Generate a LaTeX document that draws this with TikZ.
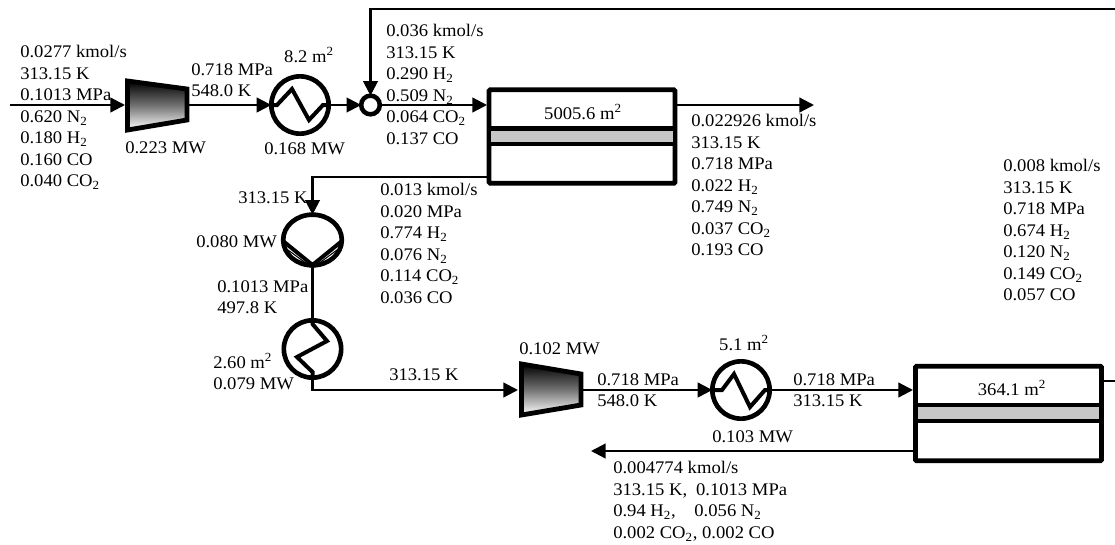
\documentclass[tikz,border=0pt]{standalone}
\usepackage{fontspec}
\setmainfont{Liberation Serif}[FakeStretch=1.05]
\usetikzlibrary{arrows.meta,shapes.geometric}
\newcommand{\sbt}[1]{\textsubscript{#1}}
\newcommand{\spt}[1]{\textsuperscript{#1}}
\tikzset{
  x=0.75pt,y=-0.75pt,
  flow/.style={line width=1.7pt,-{Triangle[length=11pt,width=11pt]}},
  pipe/.style={line width=1.7pt},
  ring/.style={circle,draw=black,line width=3.5pt,minimum size=43pt,inner sep=0pt,outer sep=0pt},
  coil/.style={line width=3pt,line join=miter},
  membrane/.style={draw=black,fill=white,line width=3.6pt,rounded corners=0.8pt,minimum width=139.5pt,minimum height=70pt,inner sep=0pt,outer sep=0pt},
  bar/.style={draw=black,line width=3.2pt,fill=black!22},
  comp/.style={draw=black,line width=3.6pt,line join=miter,top color=black,bottom color=white,middle color=black!55},
  lbl/.style={font=\fontsize{13.3pt}{16.15pt}\selectfont,align=left,anchor=north west,inner sep=0pt},
  lblc/.style={font=\fontsize{13.3pt}{16.15pt}\selectfont,anchor=center,inner sep=0pt},
}
\begin{document}
\begin{tikzpicture}
\useasboundingbox (0,0) rectangle (1115,544);
% named ports
\coordinate (feed) at (10,105);
\coordinate (c1in) at (125,105);
\coordinate (c1out) at (187,105);
\coordinate (recR) at (1115,9);
\coordinate (m1in) at (487,105);
\coordinate (m1ret) at (487,177);
\coordinate (m1out) at (677,105);
\coordinate (prod1) at (814,105);
\coordinate (c2in) at (518,390);
\coordinate (c2out) at (581,390);
\coordinate (m2in) at (913,390);
\coordinate (m2ret) at (913,451);
\coordinate (m2out) at (1103,381);
\coordinate (m2outR) at (1115,381);
\coordinate (prod2) at (591,451);
% equipment nodes
\node[ring] (hx1) at (300,105) {};
\node[ring,minimum size=14pt,line width=3.4pt] (mix) at (370.5,105) {};
\node[ring,ellipse,minimum width=44pt,minimum height=38pt] (cool) at (312.5,240) {};
\node[ring] (hx3) at (312.5,349) {};
\node[ring] (hx2) at (741,390) {};
\node[membrane] (m1) at (582,136.5) {};
\node[membrane,minimum height=71pt] (m2) at (1008.5,413.5) {};
% connectors
\draw[flow] (feed) -- (c1in);
\draw[flow] (c1out) -- (hx1.west);
\draw[flow] (hx1.east) -- (mix.west);
\draw[flow] (recR) -| (mix.north);
\draw[flow] (mix.east) -- (m1in);
\draw[flow] (m1out) -- (prod1);
\draw[flow] (m1ret) -| (cool.north);
\draw[pipe] (cool.south) -- (hx3.north);
\draw[flow] (hx3.south) |- (c2in);
\draw[flow] (c2out) -- (hx2.west);
\draw[flow] (hx2.east) -- (m2in);
\draw[pipe] (m2out) -- (m2outR);
\draw[flow] (m2ret) -- (prod2);
% compressors
\draw[comp] (127.5,81) -- (187,89) -- (187,120) -- (127.5,130) -- cycle;
\draw[comp] (521.5,364) -- (581,374) -- (581,405) -- (521.5,415) -- cycle;
% heat exchanger coils
\draw[coil] (270,105) -- (277,105) -- (292,89) -- (309,120) -- (323,105) -- (330,105);
\draw[coil] (712,390) -- (722,390) -- (734,374) -- (750,407) -- (765,390) -- (770,390);
\draw[coil] (312.5,320) -- (312.5,324) -- (327,341) -- (297,357) -- (312.5,372) -- (312.5,379);
% cooler V
\draw[coil] (283,241) -- (312.5,265) -- (342,241);
\draw[line width=0.8pt] (288,250) -- (312.5,268) -- (337,250);
% membrane separators
\draw[bar] (489,128.5) rectangle (675,144);
\draw[bar] (916,405) rectangle (1101,421);
% labels
\node[lbl] (t1) at (20,45) {0.0277 kmol/s\\313.15 K\\0.1013 MPa\\0.620 N\sbt{2}\\0.180 H\sbt{2}\\0.160 CO\\0.040 CO\sbt{2}};
\node[lbl] (t2) at (191,63) {0.718 MPa\\548.0 K};
\node[lblc] (t3) at (309,55) {8.2 m\spt{2}};
\node[lbl] (t4) at (125,141) {0.223 MW};
\node[lbl] (t5) at (264,142) {0.168 MW};
\node[lbl] (t6) at (386,24) {0.036 kmol/s\\313.15 K\\0.290 H\sbt{2}\\0.509 N\sbt{2}\\0.064 CO\sbt{2}\\0.137 CO};
\node[lblc] (t7) at (583,112) {5005.6 m\spt{2}};
\node[lbl] (t8) at (691,114) {0.022926 kmol/s\\313.15 K\\0.718 MPa\\0.022 H\sbt{2}\\0.749 N\sbt{2}\\0.037 CO\sbt{2}\\0.193 CO};
\node[lbl] (t9) at (380,183) {0.013 kmol/s\\0.020 MPa\\0.774 H\sbt{2}\\0.076 N\sbt{2}\\0.114 CO\sbt{2}\\0.036 CO};
\node[lbl] (t10) at (238,191) {313.15 K};
\node[lbl] (t11) at (196,235) {0.080 MW};
\node[lbl] (t12) at (217,280) {0.1013 MPa\\497.8 K};
\node[lbl] (t13) at (213,353) {2.60 m\spt{2}\\0.079 MW};
\node[lbl] (t14) at (389,368) {313.15 K};
\node[lbl] (t15) at (519,342) {0.102 MW};
\node[lblc] (t16) at (744,343) {5.1 m\spt{2}};
\node[lbl] (t17) at (597,373) {0.718 MPa\\548.0 K};
\node[lbl] (t18) at (793,373) {0.718 MPa\\313.15 K};
\node[lbl] (t19) at (712,430) {0.103 MW};
\node[lblc] (t20) at (1012,388) {364.1 m\spt{2}};
\node[lbl] (t21) at (613,461) {0.004774 kmol/s\\313.15 K,\hspace{0.5em}0.1013 MPa\\0.94 H\sbt{2},\hspace{1.05em}0.056 N\sbt{2}\\0.002 CO\sbt{2}, 0.002 CO};
\node[lbl] (t22) at (1003,159) {0.008 kmol/s\\313.15 K\\0.718 MPa\\0.674 H\sbt{2}\\0.120 N\sbt{2}\\0.149 CO\sbt{2}\\0.057 CO};
\end{tikzpicture}
\end{document}
